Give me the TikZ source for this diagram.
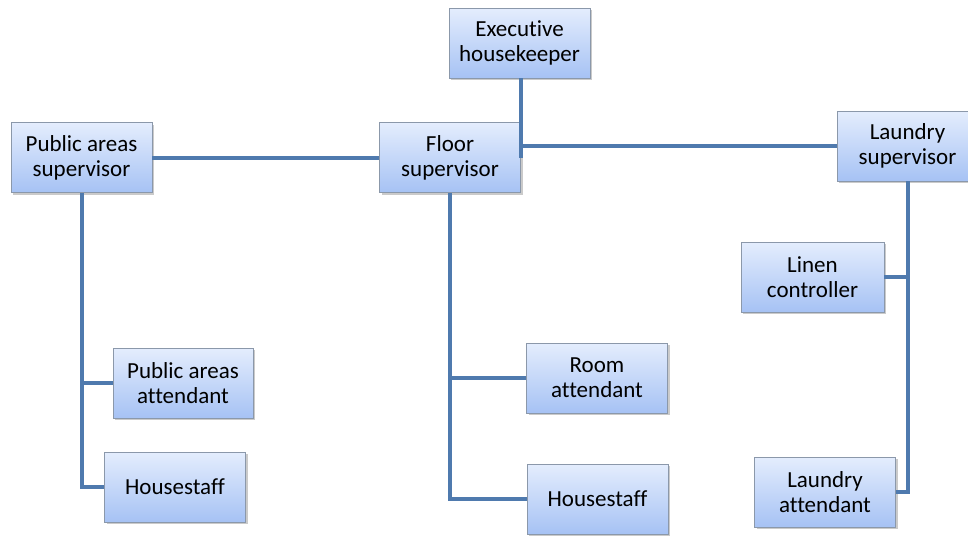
\documentclass[tikz,border=0pt]{standalone}
\usepackage{fontspec}
\setmainfont{Carlito}[RawFeature=-liga]
\usetikzlibrary{shadows}
\definecolor{boxtop}{HTML}{E4EDFD}
\definecolor{boxbot}{HTML}{A6C2F4}
\definecolor{boxline}{HTML}{8B98AA}
\definecolor{link}{HTML}{4F7AAE}
\tikzset{
  orgbox/.style={draw=boxline, line width=0.9pt, top color=boxtop, bottom color=boxbot,
    minimum width=141pt, minimum height=70pt, inner sep=2pt, align=center,
    font=\fontsize{23}{25}\selectfont,
    drop shadow={shadow xshift=2pt, shadow yshift=-2pt, opacity=0.35, fill=black!60}},
  linkline/.style={draw=link, line width=4pt}
}
\begin{document}
\begin{tikzpicture}[x=1pt,y=-1pt]
\useasboundingbox (0,0) rectangle (968,536);
\begin{scope}
\clip (0,0) rectangle (968,536);
% boxes
\node[orgbox] (exec)    at (519.5,43)  {Executive\\housekeeper};
\node[orgbox] (pubsup)  at (81.5,157.5)  {Public areas\\supervisor};
\node[orgbox] (floor)   at (450,157.5)   {Floor\\supervisor};
\node[orgbox] (laundry) at (907.5,146) {Laundry\\supervisor};
\node[orgbox, minimum width=143pt] (linen) at (812.5,277) {Linen\\controller};
\node[orgbox, minimum width=140pt] (pubatt) at (183,383) {Public areas\\attendant};
\node[orgbox] (hsa)     at (175,487)   {Housestaff};
\node[orgbox] (room)    at (597,378)   {Room\\attendant};
\node[orgbox] (hsb)     at (597.5,499) {Housestaff};
\node[orgbox] (laatt)   at (825,492)   {Laundry\\attendant};
% connectors
\draw[linkline] (exec.south -| floor.east) -- (floor.east);
\draw[linkline] (floor.east |- laundry.west) -- (laundry.west);
\draw[linkline] (pubsup.east) -- (floor.west);
\draw[linkline] (pubsup.south) -- (pubsup.south |- hsa.west) -- (hsa.west);
\draw[linkline] (pubsup.south |- pubatt.west) -- (pubatt.west);
\draw[linkline] (floor.south) -- (floor.south |- hsb.west) -- (hsb.west);
\draw[linkline] (floor.south |- room.west) -- (room.west);
\draw[linkline] (laundry.south) -- (laundry.south |- laatt.east) -- (laatt.east);
\draw[linkline] (laundry.south |- linen.east) -- (linen.east);
\end{scope}
\end{tikzpicture}
\end{document}
